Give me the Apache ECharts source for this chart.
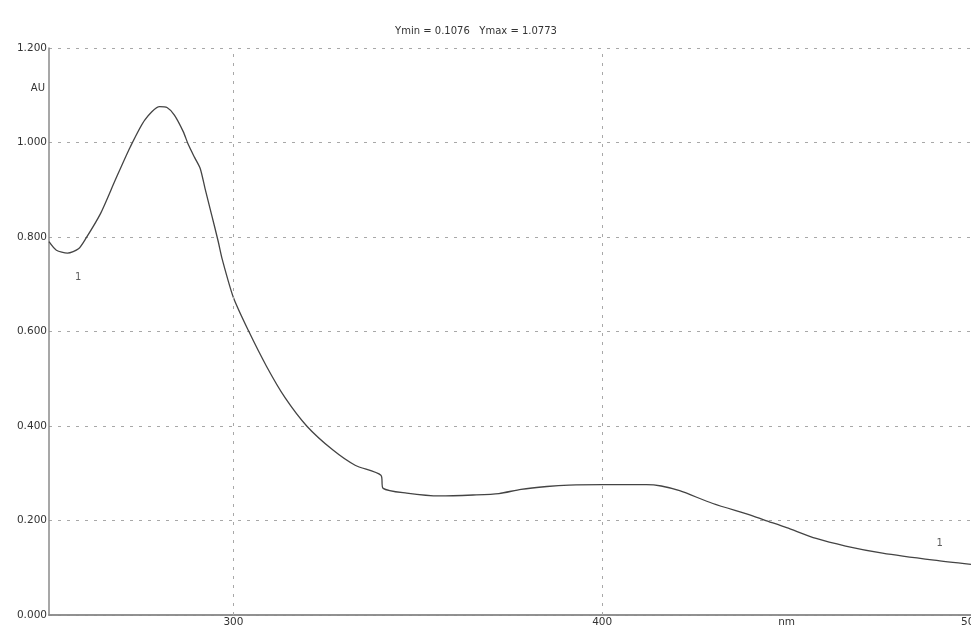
<!DOCTYPE html>
<html>
<head>
<meta charset="utf-8">
<script src="https://cdn.jsdelivr.net/npm/echarts@6/dist/echarts.min.js"></script>
<style>
html,body{margin:0;padding:0;background:#fff;}
#c{width:971px;height:630px;}
</style>
</head>
<body>
<div id="c"></div>
<script>
var wavelengths = [250, 252, 255, 258, 260, 264, 268, 272, 276, 280, 282, 284, 286.4, 287.8, 289.5, 291, 292.3, 294.1, 295.9, 297, 300, 304, 309, 314, 320, 327, 333, 340, 340.6, 347, 356, 365, 372, 378, 385, 391, 400, 412, 416, 421, 430, 440, 444, 450, 458, 466, 476, 490, 500];
var absorbance = [0.790, 0.772, 0.766, 0.775, 0.797, 0.850, 0.921, 0.990, 1.048, 1.076, 1.074, 1.058, 1.023, 0.995, 0.968, 0.945, 0.903, 0.847, 0.790, 0.752, 0.672, 0.603, 0.526, 0.460, 0.399, 0.349, 0.317, 0.296, 0.268, 0.258, 0.252, 0.254, 0.257, 0.266, 0.272, 0.275, 0.276, 0.276, 0.273, 0.263, 0.236, 0.212, 0.201, 0.185, 0.162, 0.146, 0.131, 0.116, 0.107];
var xTickLabels = {250: '', 300: '300', 350: '', 400: '400', 450: 'nm', 500: '500'};
var yTickLabels = ['0.000', '0.200', '0.400', '0.600', '0.800', '1.000', '1.200'];
var xGridLines = [300, 400];
var curveLabels = [[257.9, 0.715], [491.5, 0.152]];
var titleText = 'Ymin = 0.1076   Ymax = 1.0773';
var yUnit = 'AU';

var chart = echarts.init(document.getElementById('c'));
var font = 'DejaVu Sans, sans-serif';
chart.setOption({
  backgroundColor: '#fff',
  animation: false,
  title: {
    text: titleText, left: 471, textAlign: 'center', top: 21,
    textStyle: {fontSize: 10, fontWeight: 'normal', color: '#333', fontFamily: font}
  },
  grid: {left: 49, right: 0, top: 48, bottom: 15, containLabel: false, outerBoundsMode: 'none'},
  xAxis: [{
    type: 'value', min: 250, max: 500, interval: 50,
    axisLine: {show: true, onZero: false, lineStyle: {color: '#8a8a8a', width: 1.5}},
    axisTick: {show: false},
    splitLine: {show: false},
    axisLabel: {
      margin: 2, fontSize: 10.5, color: '#333', fontFamily: font,
      formatter: function (v) { return xTickLabels[v] !== undefined ? xTickLabels[v] : ''; }
    }
  }, {
    type: 'value', position: 'top', min: 250, max: 500,
    axisLine: {show: true, lineStyle: {color: '#8a8a8a', width: 1.5}},
    axisTick: {show: false}, axisLabel: {show: false}, splitLine: {show: false}
  }],
  yAxis: {
    type: 'value', min: 0, max: 1.2, interval: 0.2,
    axisLine: {show: true, lineStyle: {color: '#8a8a8a', width: 1.5}},
    axisTick: {show: false},
    splitLine: {show: true, lineStyle: {color: '#a8a8a8', type: [3, 6], width: 1}},
    axisLabel: {
      margin: 2, fontSize: 10.5, color: '#333', fontFamily: font,
      formatter: function (v) { return yTickLabels[Math.round(v / 0.2)]; }
    }
  },
  graphic: [{
    type: 'text', right: 971 - 45, top: 83,
    style: {text: yUnit, fill: '#333', font: '10px DejaVu Sans, sans-serif', textAlign: 'right'}
  }],
  series: [{
    type: 'line',
    data: wavelengths.map(function (w, i) { return [w, absorbance[i]]; }),
    showSymbol: false,
    smooth: 0.25,
    lineStyle: {color: '#444', width: 1.3},
    markLine: {
      silent: true, symbol: 'none', label: {show: false},
      lineStyle: {color: '#a8a8a8', type: [3, 6], width: 1},
      data: xGridLines.map(function (x) { return {xAxis: x}; })
    }
  }, {
    type: 'scatter',
    data: curveLabels,
    symbolSize: 0,
    label: {show: true, position: 'inside', formatter: '1', fontSize: 10, color: '#333', fontFamily: font}
  }]
});
</script>
</body>
</html>
